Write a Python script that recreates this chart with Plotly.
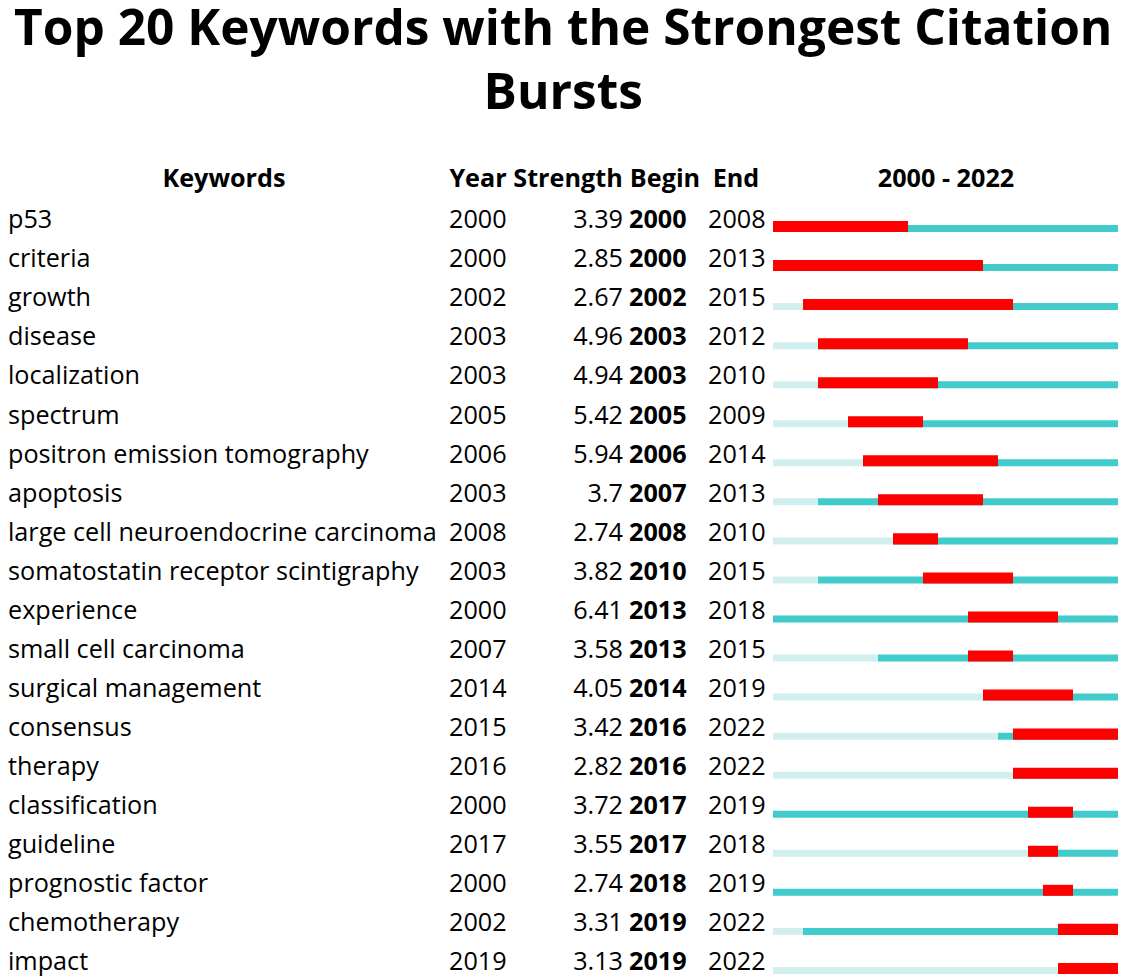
import plotly.graph_objects as go

keywords = ["p53", "criteria", "growth", "disease", "localization", "spectrum",
            "positron emission tomography", "apoptosis",
            "large cell neuroendocrine carcinoma", "somatostatin receptor scintigraphy",
            "experience", "small cell carcinoma", "surgical management", "consensus",
            "therapy", "classification", "guideline", "prognostic factor",
            "chemotherapy", "impact"]
years = [2000, 2000, 2002, 2003, 2003, 2005, 2006, 2003, 2008, 2003,
         2000, 2007, 2014, 2015, 2016, 2000, 2017, 2000, 2002, 2019]
strength = ["3.39", "2.85", "2.67", "4.96", "4.94", "5.42", "5.94", "3.7", "2.74", "3.82",
            "6.41", "3.58", "4.05", "3.42", "2.82", "3.72", "3.55", "2.74", "3.31", "3.13"]
begin = [2000, 2000, 2002, 2003, 2003, 2005, 2006, 2007, 2008, 2010,
         2013, 2013, 2014, 2016, 2016, 2017, 2017, 2018, 2019, 2019]
end = [2008, 2013, 2015, 2012, 2010, 2009, 2014, 2013, 2010, 2015,
       2018, 2015, 2019, 2022, 2022, 2019, 2018, 2019, 2022, 2022]
first_year, last_year = 2000, 2022
headers = ["Keywords", "Year", "Strength", "Begin", "End", "2000 - 2022"]

rows = list(range(len(keywords)))
FONT = "Open Sans, Noto Sans, sans-serif"
TXT = 25.2
W, H = 1120, 968   # page body has an 8px margin

fig = go.Figure()

# timeline bars (on x2): before keyword appears, after, and the burst
fig.add_trace(go.Bar(y=rows, base=[first_year] * len(rows),
                     x=[y - first_year for y in years], orientation="h", xaxis="x2",
                     marker=dict(color="#d2eff0", line_width=0),
                     width=0.179, offset=0.077))
fig.add_trace(go.Bar(y=rows, base=years,
                     x=[last_year + 1 - y for y in years], orientation="h", xaxis="x2",
                     marker=dict(color="#42cbcb", line_width=0),
                     width=0.179, offset=0.077))
fig.add_trace(go.Bar(y=rows, base=begin,
                     x=[e + 1 - b for b, e in zip(begin, end)], orientation="h", xaxis="x2",
                     marker=dict(color="#ff0000", line_width=0),
                     width=0.282, offset=-0.026))

# table columns (on x, pixel-like scale)
def col(x, vals, pos, bold=False):
    txt = ["<b>%s</b>" % v if bold else str(v) for v in vals]
    fig.add_trace(go.Scatter(x=[x] * len(vals), y=rows, mode="text", text=txt,
                             textposition=pos, cliponaxis=False,
                             textfont=dict(family=FONT, size=TXT, color="#000000")))

col(8, keywords, "middle right")
col(449, years, "middle right")
col(623, strength, "middle left")
col(629, begin, "middle right", bold=True)
col(708, end, "middle right")

hx = [224, 478, 568, 665, 736, 946]
fig.add_trace(go.Scatter(x=hx, y=[-1.05] * len(hx), mode="text",
                         text=["<b>%s</b>" % h for h in headers],
                         textposition="middle center", cliponaxis=False,
                         textfont=dict(family=FONT, size=TXT, color="#000000")))

fig.add_annotation(text="<b>Top 20 Keywords with the Strongest Citation<br>Bursts</b>",
                   xref="paper", yref="paper", x=555 / W, y=1 - 50 / H,
                   xanchor="center", yanchor="middle", showarrow=False, align="center",
                   borderpad=0, font=dict(family=FONT, size=49.6, color="#000000"))

fig.update_layout(
    width=W, height=H,
    margin=dict(l=0, r=0, t=0, b=0),
    plot_bgcolor="rgba(0,0,0,0)", paper_bgcolor="white",
    showlegend=False, barmode="overlay",
    xaxis=dict(domain=[0, 1], range=[8, 8 + W], visible=False),
    xaxis2=dict(domain=[765 / W, 1110 / W], range=[first_year, last_year + 1],
                anchor="y", visible=False),
    yaxis=dict(range=[19.309, -5.480], visible=False),
)

fig.write_html("out.html")
